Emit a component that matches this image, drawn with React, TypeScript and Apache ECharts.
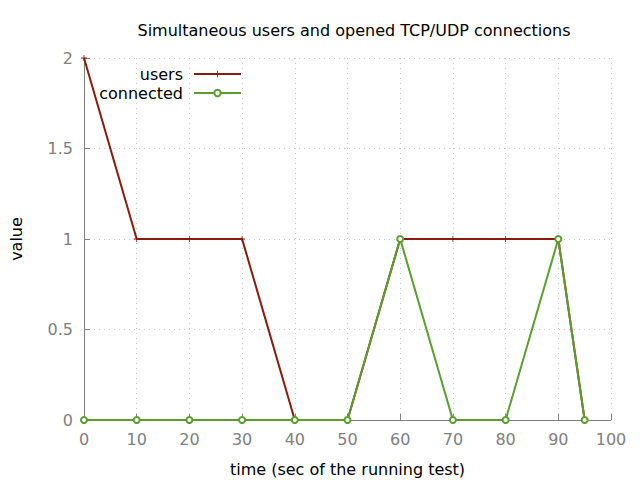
import React, { useEffect, useRef } from "react";
import * as echarts from "echarts";

const timeValues = [0, 10, 20, 30, 40, 50, 60, 70, 80, 90, 95];
const usersValues = [2, 1, 1, 1, 0, 0, 1, 1, 1, 1, 0];
const connectedValues = [0, 0, 0, 0, 0, 0, 1, 0, 0, 1, 0];
const yTicks = [0, 0.5, 1, 1.5, 2];

const FONT = "DejaVu Sans";
const plusPath = "path://M4.3,0L5.7,0L5.7,4.3L10,4.3L10,5.7L5.7,5.7L5.7,10L4.3,10L4.3,5.7L0,5.7L0,4.3L4.3,4.3Z";

export default function App() {
  const ref = useRef<HTMLDivElement>(null);
  useEffect(() => {
    if (!ref.current) return;
    const chart = echarts.init(ref.current, null, { renderer: "svg" });
    const pair = (ys: number[]) => timeValues.map((t, i) => [t, ys[i]]);
    chart.setOption({
      animation: false,
      backgroundColor: "#ffffff",
      textStyle: { fontFamily: FONT },
      title: {
        text: "Simultaneous users and opened TCP/UDP connections",
        left: 349,
        textAlign: "center",
        top: 17,
        textStyle: { fontFamily: FONT, fontSize: 16, fontWeight: "normal", color: "#000" },
      },
      legend: {
        orient: "vertical",
        right: 398,
        top: 66,
        padding: 0,
        align: "right",
        itemWidth: 47,
        itemHeight: 8,
        itemGap: 3,
        textStyle: { fontFamily: FONT, fontSize: 16, color: "#000", padding: [0, 6, 0, 0] },
        data: ["users", "connected"],
      },
      grid: { left: 84, right: 29, top: 58, bottom: 60, containLabel: false, outerBoundsMode: "none" },
      xAxis: {
        type: "value",
        min: 0,
        max: 100,
        interval: 10,
        name: "time (sec of the running test)",
        nameLocation: "middle",
        nameGap: 41,
        nameTextStyle: { fontFamily: FONT, fontSize: 16, color: "#000" },
        axisLine: { lineStyle: { color: "#808080", width: 1 } },
        axisTick: { inside: true, length: 6, lineStyle: { color: "#808080" } },
        axisLabel: { fontFamily: FONT, fontSize: 16, color: "#808080", margin: 11 },
        splitLine: { show: true, lineStyle: { color: "#c8c8c8", type: [1, 4] } },
      },
      yAxis: {
        type: "value",
        min: 0,
        max: 2,
        interval: 0.5,
        name: "value",
        nameLocation: "middle",
        nameGap: 60,
        nameTextStyle: { fontFamily: FONT, fontSize: 16, color: "#000" },
        axisLine: { show: true, lineStyle: { color: "#808080", width: 1 } },
        axisTick: { show: true, inside: true, length: 6, lineStyle: { color: "#808080" } },
        axisLabel: { fontFamily: FONT, fontSize: 16, color: "#808080", margin: 11,
          formatter: (v: number) => (yTicks.includes(v) ? String(v) : "") },
        splitLine: { show: true, lineStyle: { color: "#c8c8c8", type: [1, 4] } },
      },
      series: [
        {
          name: "users",
          type: "line",
          data: pair(usersValues),
          symbol: plusPath,
          symbolSize: 6,
          showAllSymbol: true,
          color: "#8b1a0e",
          lineStyle: { color: "#8b1a0e", width: 2 },
          itemStyle: { color: "#8b1a0e", borderWidth: 0 },
          z: 2,
        },
        {
          name: "connected",
          type: "line",
          data: pair(connectedValues),
          symbol: "emptyCircle",
          symbolSize: 6,
          showAllSymbol: true,
          color: "#5a9e2e",
          lineStyle: { color: "#5a9e2e", width: 2 },
          itemStyle: { color: "#5a9e2e", borderColor: "#5a9e2e", borderWidth: 2 },
          z: 3,
        },
      ],
    });
    return () => chart.dispose();
  }, []);
  return <div ref={ref} style={{ width: 640, height: 480, position: "absolute", left: 0, top: 0 }} />;
}
